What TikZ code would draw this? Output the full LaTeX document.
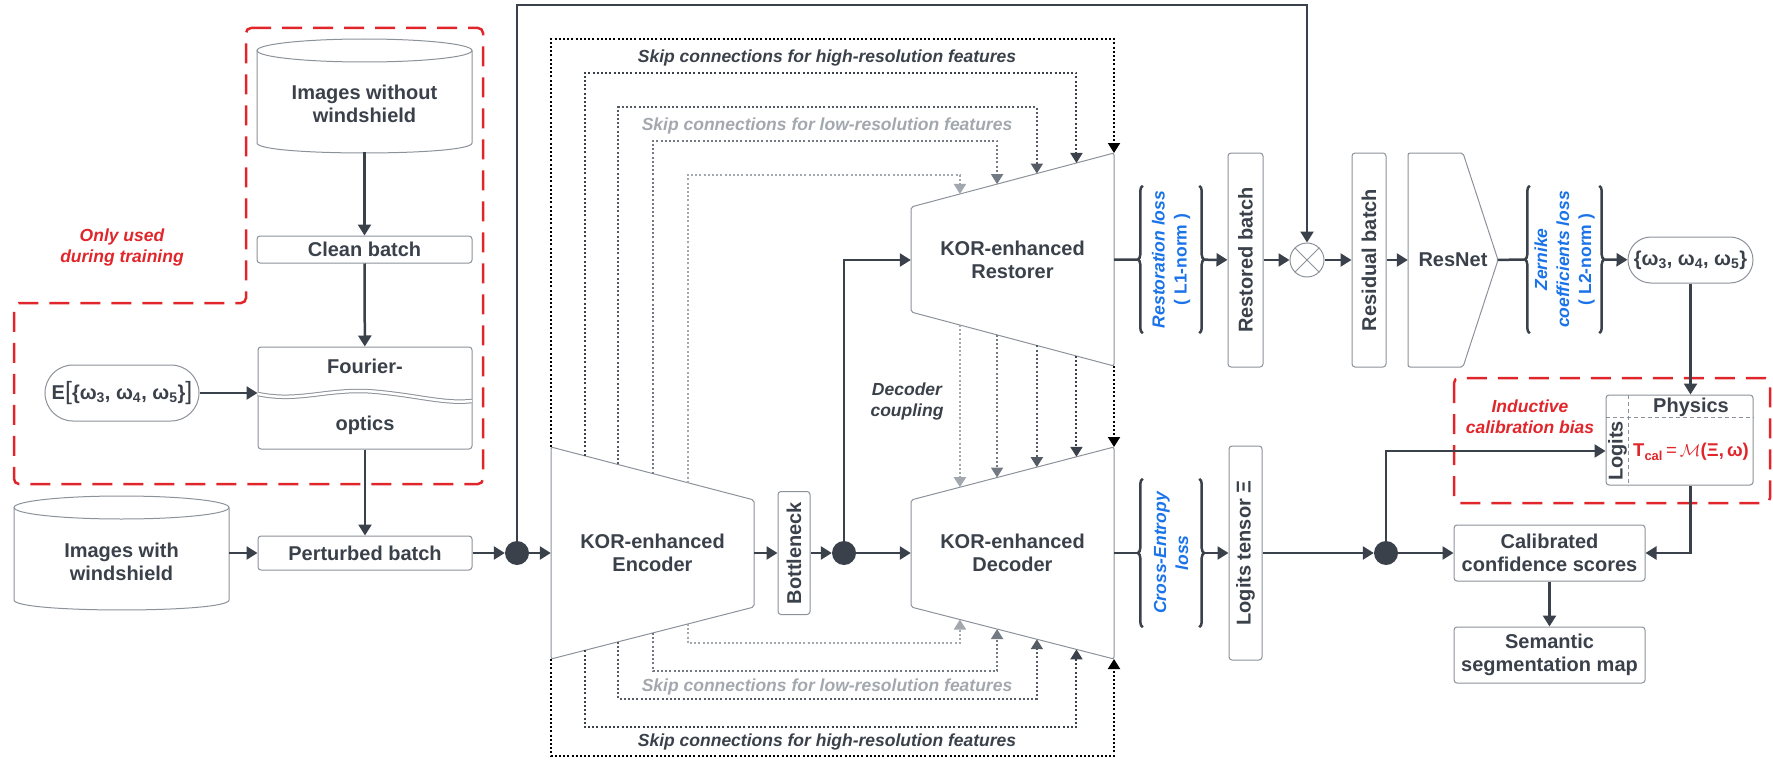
\documentclass[tikz,border=0pt]{standalone}
\usepackage{fontspec}
\setmainfont{Liberation Sans}
\usetikzlibrary{positioning,calc,arrows.meta,decorations.pathreplacing}

\definecolor{ink}{HTML}{3A414A}
\definecolor{rim}{HTML}{8C929A}
\definecolor{alarm}{HTML}{E0262B}
\definecolor{lossblue}{HTML}{1A73E8}
\definecolor{skipA}{HTML}{000000}
\definecolor{skipB}{HTML}{3A414A}
\definecolor{skipC}{HTML}{555B64}
\definecolor{skipD}{HTML}{747A83}
\definecolor{skipE}{HTML}{A3A8AF}

\tikzset{
  every node/.style={text=ink, font=\fontsize{20}{23}\selectfont\bfseries},
  box/.style={draw=rim, line width=1pt, rounded corners=3pt, inner sep=0pt, align=center},
  ghost/.style={inner sep=0pt, align=center},
  junction/.style={circle, fill=ink, minimum size=24pt, inner sep=0pt},
  wire/.style={draw=ink, line width=2.5pt},
  arr/.style={wire, -{Triangle[length=11pt,width=13pt]}},
  skipline/.style={line width=2pt, dash pattern=on 2pt off 2.2pt, -{Triangle[length=10pt,width=12pt]}},
  hull/.style={draw=rim, line width=1pt, rounded corners=2pt},
  fence/.style={draw=alarm, line width=2.5pt, dash pattern=on 20pt off 11pt, rounded corners=5pt},
  note/.style={text=alarm, font=\fontsize{17.5}{21}\selectfont\bfseries\itshape, align=center},
  skiptag/.style={font=\fontsize{17.5}{21}\selectfont\bfseries\itshape, align=center},
  lossnote/.style={text=lossblue, font=\fontsize{17.5}{22}\selectfont\bfseries, align=center, rotate=90},
  curly/.style={wire, decorate, decoration={brace, amplitude=5pt}}
}

\begin{document}
\begin{tikzpicture}[x=1pt, y=-1pt]
\useasboundingbox (0,0) rectangle (1773,760);

\draw [fence] (246,28) -- (483,28) -- (483,484) -- (14,484) -- (14,303) -- (246,303) -- cycle;
\draw [fence] (1454,378) rectangle (1770,503);
\node [note] (trainonly) at (122,247) {Only used\\during training};
\node [note] (biasnote) at (1530,417) {Inductive\\calibration bias};

\draw [hull] (257,50.5) -- (257,141) .. controls (257,156.3) and (472,156.3) .. (472,141) -- (472,50.5);
\draw [hull] (364.5,50.5) ellipse [x radius=107.5pt, y radius=11.5pt];
\node [ghost, minimum width=215pt, minimum height=96pt] (nowind) at (364.5,104) {Images without\\windshield};
\node [box, minimum width=215pt, minimum height=27pt] (clean) at (364.5,249.5) {Clean batch};
\node [box, minimum width=214pt, minimum height=102pt] (four) at (365,398) {};
\draw [rim, line width=1pt, double, double distance=2.5pt] (258,394) .. controls (300,403) and (330,387) .. (378,392) .. controls (420,396) and (445,404) .. (472,401);
\node (fourtop) at (365,366) {Fourier-};
\node (fourbot) at (365,425) {optics};
\node [box, rounded corners=28pt, minimum width=154pt, minimum height=56pt] (expect) at (122,393) {E{\mdseries\fontsize{25}{25}\selectfont[}\{ω\textsubscript{3}, ω\textsubscript{4}, ω\textsubscript{5}\}{\mdseries\fontsize{25}{25}\selectfont]}};
\node [box, minimum width=214pt, minimum height=34pt] (pert) at (365,553) {Perturbed batch};
\draw [hull] (14,507.5) -- (14,598) .. controls (14,613.3) and (229,613.3) .. (229,598) -- (229,507.5);
\draw [hull] (121.5,507.5) ellipse [x radius=107.5pt, y radius=11.5pt];
\node [ghost, minimum width=215pt, minimum height=94pt] (withwind) at (121.5,562) {Images with\\windshield};

\draw [arr] (nowind) -- (clean);
\draw [arr] (clean) -- (four);
\draw [arr] (expect) -- (expect -| four.west);
\draw [arr] (four) -- (pert);
\draw [arr] (withwind.east |- pert) -- (pert);

\coordinate (enc-tl) at (551,447);
\coordinate (enc-tr) at (754,500);
\coordinate (enc-br) at (754,607);
\coordinate (enc-bl) at (551,659);
\coordinate (dec-tl) at (911,500);
\coordinate (dec-tr) at (1114,447);
\coordinate (dec-br) at (1114,659);
\coordinate (dec-bl) at (911,607);
\coordinate (res-tl) at (911,207);
\coordinate (res-tr) at (1114,153);
\coordinate (res-br) at (1114,366);
\coordinate (res-bl) at (911,312);
\draw [hull] (enc-tl) -- (enc-tr) -- (enc-br) -- (enc-bl) -- cycle;
\draw [hull] (dec-tl) -- (dec-tr) -- (dec-br) -- (dec-bl) -- cycle;
\draw [hull] (res-tl) -- (res-tr) -- (res-br) -- (res-bl) -- cycle;

\foreach \fe/\fd/\ytop/\ybot/\skipcol in {0/1/39/756/skipA, 0.167/0.815/73/727/skipB, 0.33/0.62/107/699/skipC, 0.502/0.424/141/671/skipD, 0.675/0.241/175/643/skipE}{
  \coordinate (ea) at ($(enc-tl)!\fe!(enc-tr)$);
  \coordinate (eb) at ($(enc-bl)!\fe!(enc-br)$);
  \coordinate (ra) at ($(res-tl)!\fd!(res-tr)$);
  \coordinate (rb) at ($(res-bl)!\fd!(res-br)$);
  \coordinate (da) at ($(dec-tl)!\fd!(dec-tr)$);
  \coordinate (db) at ($(dec-bl)!\fd!(dec-br)$);
  \draw [skipline, draw=\skipcol] (ea) -- (ea |- 0,\ytop) -| (ra);
  \draw [skipline, draw=\skipcol] (eb) -- (eb |- 0,\ybot) -| (db);
  \draw [skipline, draw=\skipcol] (rb) -- (da);
}
\node [skiptag] (hitop) at (827,58) {Skip connections for high-resolution features};
\node [skiptag, text=skipE] (lotop) at (827,126) {Skip connections for low-resolution features};
\node [skiptag, text=skipE] (lobot) at (827,687) {Skip connections for low-resolution features};
\node [skiptag] (hibot) at (827,742) {Skip connections for high-resolution features};
\node [skiptag] (couple) at (907,401) {Decoder\\coupling};

\node [junction] (split1) at (517,553) {};
\node [ghost, minimum width=203pt, minimum height=107pt] (enc) at (652.5,553) {KOR-enhanced\\Encoder};
\node [box, rotate=90, minimum width=123pt, minimum height=32pt] (bottle) at (794,553) {Bottleneck};
\node [junction] (split2) at (844,553) {};
\node [ghost, minimum width=203pt, minimum height=107pt] (dec) at (1012.5,553) {KOR-enhanced\\Decoder};
\node [ghost, minimum width=203pt, minimum height=105pt] (resto) at (1012.5,260) {KOR-enhanced\\Restorer};

\node [ghost, minimum width=68pt, minimum height=147pt] (rloss) at (1171,259.5) {};
\node [lossnote] (rlosstxt) at (rloss) {{\itshape Restoration loss}\\( L1-norm )};
\node [box, rotate=90, minimum width=214pt, minimum height=35pt] (restored) at (1245.5,260) {Restored batch};
\node [circle, draw=rim, line width=1pt, minimum size=34pt, inner sep=0pt] (mult) at (1307,260) {};
\draw [rim, line width=1pt] (mult.north west) -- (mult.south east) (mult.north east) -- (mult.south west);
\node [box, rotate=90, minimum width=214pt, minimum height=34pt] (resid) at (1369,260) {Residual batch};
\draw [hull] (1408,153) -- (1463,153) -- (1498,260) -- (1463,367) -- (1408,367) -- cycle;
\node [ghost, minimum width=90pt, minimum height=214pt] (resnet) at (1453,260) {ResNet};
\node [ghost, minimum width=81pt, minimum height=147pt] (zloss) at (1564.5,259.5) {};
\node [lossnote] (zlosstxt) at (zloss) {{\itshape Zernike}\\{\itshape coefficients loss}\\( L2-norm )};
\node [box, rounded corners=23pt, minimum width=125pt, minimum height=46pt] (omega) at (1690.5,260) {\{ω\textsubscript{3}, ω\textsubscript{4}, ω\textsubscript{5}\}};

\coordinate (rail) at (0,5);
\draw [arr] (pert) -- (split1);
\draw [arr] (split1) -- (enc);
\draw [arr] (split1) -- (split1 |- rail) -| (mult);
\draw [arr] (enc) -- (bottle);
\draw [arr] (bottle) -- (split2);
\draw [arr] (split2) -- (dec);
\draw [arr] (split2) |- (resto);

\draw [curly] ([xshift=6pt]rloss.south west) -- ([xshift=6pt]rloss.north west);
\draw [curly] ([xshift=-6pt]rloss.north east) -- ([xshift=-6pt]rloss.south east);
\draw [curly] ([xshift=6pt]zloss.south west) -- ([xshift=6pt]zloss.north west);
\draw [curly] ([xshift=-6pt]zloss.north east) -- ([xshift=-6pt]zloss.south east);

\draw [wire] (resto) -- (rloss);
\draw [arr] (rloss) -- (restored);
\draw [arr] (restored) -- (mult);
\draw [arr] (mult) -- (resid);
\draw [arr] (resid) -- (resnet);
\draw [wire] (resnet) -- (zloss);
\draw [arr] (zloss) -- (omega);

\node [ghost, minimum width=68pt, minimum height=148pt] (celoss) at (1171,553) {};
\node [lossnote, font=\fontsize{17.5}{22}\selectfont\bfseries\itshape] (celosstxt) at (celoss) {Cross-Entropy\\loss};
\draw [curly] ([xshift=6pt]celoss.south west) -- ([xshift=6pt]celoss.north west);
\draw [curly] ([xshift=-6pt]celoss.north east) -- ([xshift=-6pt]celoss.south east);
\node [box, rotate=90, minimum width=214pt, minimum height=33pt] (logits) at (1245.5,553) {Logits tensor Ξ};
\node [junction] (split3) at (1386,553) {};
\node [box, minimum width=191pt, minimum height=56pt] (calib) at (1549.5,553) {Calibrated\\confidence scores};
\node [box, below = 45pt of calib, minimum width=191pt, minimum height=56pt] (semseg) {Semantic\\segmentation map};

\node [box, minimum width=147pt, minimum height=90pt] (physbox) at (1679.5,440) {};
\draw [rim, line width=0.9pt, dash pattern=on 4pt off 3pt] ([xshift=23pt]physbox.north west) -- ([xshift=23pt]physbox.south west);
\draw [rim, line width=0.9pt, dash pattern=on 4pt off 3pt] ([yshift=-23pt]physbox.north west) -- ([yshift=-23pt]physbox.north east);
\node (physics) at (1691,407) {Physics};
\node [rotate=90] (logitsh) at (1617.5,451) {Logits};
\node [text=alarm, inner sep=0pt, font=\fontsize{18.5}{21}\selectfont\bfseries] (tcal) at (1691,452) {T\textsubscript{cal}\,{\mdseries=}\,$\mathcal{M}$(Ξ,\,ω)};

\draw [wire] (dec) -- (celoss);
\draw [arr] (celoss) -- (logits);
\draw [arr] (logits) -- (split3);
\draw [arr] (split3) -- (calib);
\draw [arr] (split3) |- (physbox.west |- logitsh);
\draw [arr] (omega) -- (physbox.north -| omega);
\draw [arr] (physbox.south -| omega) |- (calib);
\draw [arr] (calib) -- (semseg);
\end{tikzpicture}
\end{document}
